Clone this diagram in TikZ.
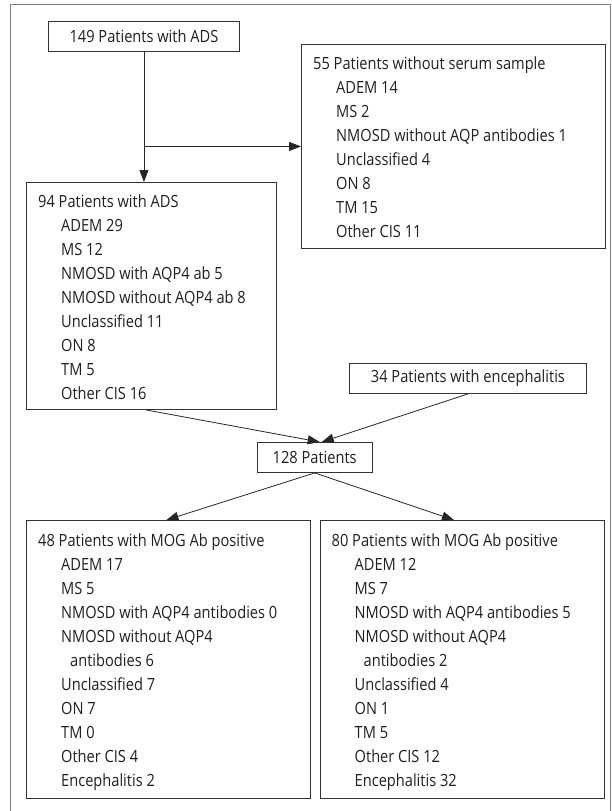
\documentclass[tikz,border=0pt]{standalone}
\usepackage{fontspec}
\setmainfont{Open Sans}[FakeStretch=0.87]
\usetikzlibrary{arrows.meta}
\begin{document}
\begin{tikzpicture}[x=1bp,y=-1bp,
  box/.style={draw=black!80, line width=0.9bp, inner sep=0pt, anchor=north west},
  txt/.style={inner sep=0pt, anchor=north west, align=left, text=black!88,
    font=\fontsize{16.8bp}{24bp}\selectfont},
  ctxt/.style={text=black!88, font=\fontsize{16.8bp}{24bp}\selectfont},
  conn/.style={draw=black!85, line width=0.8bp, -{Triangle[length=12bp,width=9bp]}},
  frame/.style={draw=black!50, line width=1bp}]
\useasboundingbox (0,0) rectangle (612,811);
\draw[frame] (10,811) -- (10,4.5) -- (610,4.5) -- (610,811);
% boxes
\node[box, minimum width=191bp, minimum height=30bp] (A) at (48,21) {};
\node[ctxt] (At) at (A.center) {149 Patients with ADS};
\node[box, minimum width=304bp, minimum height=204bp] (B) at (301,44) {};
\node[box, minimum width=250bp, minimum height=227bp] (C) at (26,182) {};
\node[box, minimum width=237bp, minimum height=30bp] (D) at (349,363) {};
\node[ctxt] (Dt) at (D.center) {34 Patients with encephalitis};
\node[box, minimum width=114.5bp, minimum height=30bp] (E) at (257,442) {};
\node[ctxt] (Et) at (E.center) {128 Patients};
\node[box, minimum width=284bp, minimum height=278bp] (F) at (26,520) {};
\node[box, minimum width=284bp, minimum height=278bp] (G) at (319.5,520) {};
% texts
\node[txt] (Bt) at ([shift={(12,13)}]B.north west) {55 Patients without serum sample\\
\hspace*{23bp}ADEM 14\\
\hspace*{23bp}MS 2\\
\hspace*{23bp}NMOSD without AQP antibodies 1\\
\hspace*{23bp}Unclassified 4\\
\hspace*{23bp}ON 8\\
\hspace*{23bp}TM 15\\
\hspace*{23bp}Other CIS 11};
\node[txt] (Ct) at ([shift={(12,13)}]C.north west) {94 Patients with ADS\\
\hspace*{23bp}ADEM 29\\
\hspace*{23bp}MS 12\\
\hspace*{23bp}NMOSD with AQP4 ab 5\\
\hspace*{23bp}NMOSD without AQP4 ab 8\\
\hspace*{23bp}Unclassified 11\\
\hspace*{23bp}ON 8\\
\hspace*{23bp}TM 5\\
\hspace*{23bp}Other CIS 16};
\node[txt] (Ft) at ([shift={(12,14)}]F.north west) {48 Patients with MOG Ab positive\\
\hspace*{23bp}ADEM 17\\
\hspace*{23bp}MS 5\\
\hspace*{23bp}NMOSD with AQP4 antibodies 0\\
\hspace*{23bp}NMOSD without AQP4\\
\hspace*{32bp}antibodies 6\\
\hspace*{23bp}Unclassified 7\\
\hspace*{23bp}ON 7\\
\hspace*{23bp}TM 0\\
\hspace*{23bp}Other CIS 4\\
\hspace*{23bp}Encephalitis 2};
\node[txt] (Gt) at ([shift={(12,14)}]G.north west) {80 Patients with MOG Ab positive\\
\hspace*{23bp}ADEM 12\\
\hspace*{23bp}MS 7\\
\hspace*{23bp}NMOSD with AQP4 antibodies 5\\
\hspace*{23bp}NMOSD without AQP4\\
\hspace*{32bp}antibodies 2\\
\hspace*{23bp}Unclassified 4\\
\hspace*{23bp}ON 1\\
\hspace*{23bp}TM 5\\
\hspace*{23bp}Other CIS 12\\
\hspace*{23bp}Encephalitis 32};
% connectors
\draw[conn] (A.south) -- (A.south |- C.north);
\draw[conn] (A.south |- B.west) -- (B.west);
\draw[conn] ([xshift=2bp]A.south |- C.south) -- ([xshift=5bp]E.north);
\draw[conn] (D.south) -- ([xshift=7bp]E.north);
\draw[conn] (E.south) -- ([xshift=-2bp]F.north);
\draw[conn] (E.south) -- ([xshift=-8bp]G.north);
\end{tikzpicture}
\end{document}
